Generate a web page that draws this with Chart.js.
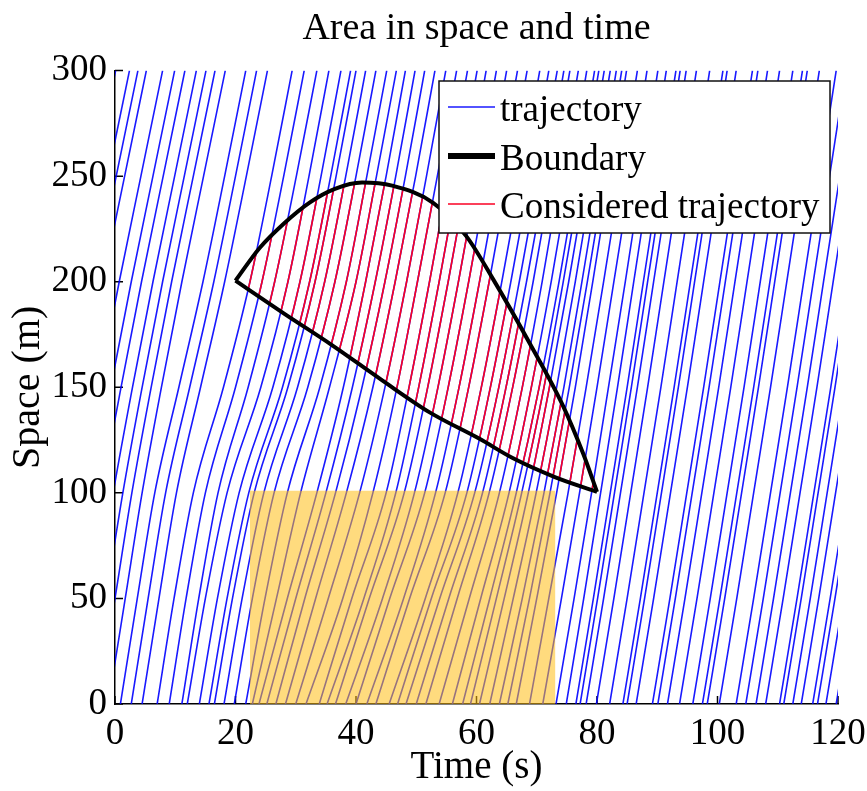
<!DOCTYPE html>
<html lang="en">
<head>
  <meta charset="UTF-8">
  <title>Area in space and time</title>
  <script src="https://cdn.jsdelivr.net/npm/chart.js"></script>
  <style>
    html, body { margin: 0; padding: 0; background: #fff; }
  </style>
</head>
<body>
  <canvas id="graph" width="867" height="791"></canvas>

  <script>
    // Space levels (m) where each trajectory time is read
    const spaceLevels = [0, 50, 100, 150, 200, 250, 300];

    // Time (s) at which each vehicle passes the space levels above
    const trajectoryTimes = [
      [-19.3, -16.5, -13.7, -10.5, -7.1, -3.5, 0.1],
      [-17.0, -14.2, -11.4, -8.2, -4.8, -1.2, 2.4],
      [-15.6, -12.8, -10.0, -6.8, -3.4, 0.2, 3.8],
      [-14.2, -11.4, -8.6, -5.4, -2.0, 1.6, 5.2],
      [-11.5, -8.7, -5.9, -2.7, 0.7, 4.3, 7.9],
      [-9.5, -6.7, -3.9, -0.7, 2.7, 6.3, 9.9],
      [-7.8, -5.0, -2.2, 1.0, 4.4, 8.0, 11.6],
      [-5.9, -3.1, -0.3, 2.9, 6.3, 9.9, 13.5],
      [-4.3, -1.5, 1.3, 4.5, 7.9, 11.5, 15.1],
      [-2.8, 0.0, 2.8, 6.0, 9.4, 13.0, 16.6],
      [-1.1, 1.7, 4.5, 7.7, 11.1, 14.7, 18.3],
      [0.9, 3.7, 6.6, 10.6, 14.6, 18.2, 21.7],
      [2.7, 5.5, 8.4, 12.4, 16.4, 20.0, 23.5],
      [4.5, 7.3, 10.2, 14.2, 18.2, 21.8, 25.3],
      [7.0, 9.8, 13.0, 18.0, 22.4, 26.0, 29.4],
      [9.0, 11.8, 15.0, 20.0, 24.4, 28.0, 31.4],
      [11.1, 13.9, 17.1, 22.1, 26.5, 30.1, 33.5],
      [12.0, 15.0, 18.6, 24.2, 28.7, 32.2, 35.5],
      [14.0, 17.0, 20.6, 26.2, 30.7, 34.2, 37.5],
      [15.6, 18.6, 22.2, 27.8, 32.3, 35.8, 39.1],
      [16.5, 19.5, 23.1, 28.7, 33.2, 36.7, 40.0],
      [18.1, 21.1, 24.7, 30.3, 34.8, 38.3, 41.6],
      [19.8, 22.8, 26.4, 32.0, 36.5, 40.0, 43.3],
      [21.7, 24.9, 28.6, 34.0, 38.4, 41.8, 45.1],
      [22.8, 26.8, 30.8, 35.6, 40.0, 43.4, 46.7],
      [23.9, 28.6, 33.5, 37.9, 41.6, 45.0, 48.2],
      [25.2, 30.0, 35.0, 39.4, 43.2, 46.6, 49.8],
      [26.7, 31.5, 36.6, 41.0, 44.8, 48.2, 51.4],
      [28.3, 33.3, 38.4, 42.8, 46.5, 49.9, 53.1],
      [30.0, 35.4, 40.6, 44.8, 48.4, 51.7, 54.9],
      [31.7, 37.8, 42.8, 46.8, 50.2, 53.5, 56.7],
      [33.9, 39.3, 45.0, 48.8, 52.2, 55.4, 58.5],
      [35.2, 41.3, 46.6, 50.4, 53.8, 57.0, 60.1],
      [36.6, 42.2, 48.0, 51.9, 55.3, 58.5, 61.6],
      [38.3, 44.4, 49.7, 53.6, 57.0, 60.2, 63.3],
      [40.0, 45.6, 51.4, 55.3, 58.7, 61.9, 65.0],
      [41.8, 47.9, 53.2, 57.1, 60.5, 63.7, 66.8],
      [43.3, 48.9, 54.8, 58.7, 62.1, 65.3, 68.4],
      [45.5, 51.5, 56.9, 60.8, 64.2, 67.4, 70.5],
      [46.9, 52.5, 58.4, 62.3, 65.7, 68.9, 72.0],
      [48.3, 53.9, 59.7, 63.7, 67.1, 70.3, 73.4],
      [50.0, 55.4, 61.0, 64.9, 68.3, 71.5, 74.5],
      [51.6, 56.8, 62.1, 66.0, 69.4, 72.5, 75.5],
      [53.8, 58.8, 63.8, 67.6, 70.9, 73.9, 76.9],
      [56.0, 60.7, 65.4, 69.1, 72.4, 75.4, 78.3],
      [57.7, 62.2, 66.6, 70.4, 73.7, 76.7, 79.6],
      [59.0, 63.3, 67.5, 71.2, 74.4, 77.4, 80.3],
      [60.5, 64.6, 68.6, 72.1, 75.3, 78.3, 81.2],
      [62.2, 66.1, 69.9, 73.3, 76.4, 79.3, 82.2],
      [63.8, 67.6, 71.2, 74.5, 77.5, 80.4, 83.2],
      [65.2, 68.8, 72.2, 75.4, 78.4, 81.3, 84.1],
      [66.6, 70.0, 73.3, 76.4, 79.3, 82.1, 84.9],
      [68.8, 72.0, 75.2, 78.2, 81.1, 83.9, 86.7],
      [71.0, 74.1, 77.1, 80.0, 82.8, 85.6, 88.3],
      [73.2, 76.2, 79.1, 81.9, 84.7, 87.4, 90.1],
      [74.9, 77.8, 80.6, 83.4, 86.1, 88.8, 91.5],
      [76.5, 79.4, 82.2, 85.0, 87.7, 90.4, 93.1],
      [77.2, 80.1, 82.9, 85.7, 88.4, 91.1, 93.8],
      [78.2, 81.1, 83.9, 86.7, 89.4, 92.1, 94.8],
      [79.9, 82.8, 85.6, 88.4, 91.1, 93.8, 96.5],
      [82.1, 85.0, 87.8, 90.6, 93.3, 96.0, 98.7],
      [84.3, 87.2, 90.0, 92.8, 95.5, 98.2, 100.9],
      [85.0, 87.9, 90.7, 93.5, 96.2, 98.9, 101.6],
      [86.5, 89.4, 92.2, 95.0, 97.7, 100.4, 103.1],
      [89.2, 92.1, 94.9, 97.7, 100.4, 103.1, 105.8],
      [90.1, 93.0, 95.8, 98.6, 101.3, 104.0, 106.7],
      [91.7, 94.6, 97.4, 100.2, 102.9, 105.6, 108.3],
      [93.7, 96.6, 99.4, 102.2, 104.9, 107.6, 110.3],
      [95.9, 98.8, 101.6, 104.4, 107.1, 109.8, 112.5],
      [97.5, 100.4, 103.2, 106.0, 108.7, 111.4, 114.1],
      [98.3, 101.2, 104.0, 106.8, 109.5, 112.2, 114.9],
      [100.3, 103.2, 106.0, 108.8, 111.5, 114.2, 116.9],
      [103.1, 106.0, 108.8, 111.6, 114.3, 117.0, 119.7],
      [104.7, 107.6, 110.4, 113.2, 115.9, 118.6, 121.3],
      [106.4, 109.3, 112.1, 114.9, 117.6, 120.3, 123.0],
      [108.0, 110.9, 113.7, 116.5, 119.2, 121.9, 124.6],
      [110.3, 113.2, 116.0, 118.8, 121.5, 124.2, 126.9],
      [111.0, 113.9, 116.7, 119.5, 122.2, 124.9, 127.6],
      [112.5, 115.4, 118.2, 121.0, 123.7, 126.4, 129.1],
      [113.9, 116.8, 119.6, 122.4, 125.1, 127.8, 130.5],
      [115.8, 118.7, 121.5, 124.3, 127.0, 129.7, 132.4],
      [116.6, 119.5, 122.3, 125.1, 127.8, 130.5, 133.2],
      [118.0, 120.9, 123.7, 126.5, 129.2, 131.9, 134.6],
      [119.7, 122.6, 125.4, 128.2, 130.9, 133.6, 136.3]
    ];

    // Boundary of the considered area
    const upperTime  = [20, 24, 28, 32.3, 36.5, 41, 46, 52.8, 58.3, 62.8, 68.8, 74.4, 77.7, 80];
    const upperSpace = [200.5, 216, 227.5, 237.5, 244, 247, 245.5, 237.4, 221.6, 201, 171, 141, 118.6, 100.5];
    const lowerTime  = [20, 28, 36, 44, 52.3, 60.5, 66, 73, 80];
    const lowerSpace = [200.5, 185, 170, 154, 138, 125.6, 116.5, 107.5, 100.5];

    // Shaded area
    const areaTime = [22.4, 73.1];
    const areaTop = 101;

    const labelTrajectory = "trajectory";
    const labelBoundary = "Boundary";
    const labelConsidered = "Considered trajectory";

    const BLUE = "rgba(0, 0, 255, 0.9)";
    const RED = "rgb(250, 0, 35)";
    const SERIF = "'Liberation Serif', 'Times New Roman', serif";

    function toPoints(times, spaces) {
      return times.map((t, i) => ({ x: t, y: spaces[i] }));
    }

    const datasets = [];

    // shaded rectangle (drawn on top)
    datasets.push({
      label: "area",
      data: toPoints(areaTime, [areaTop, areaTop]),
      borderWidth: 0,
      borderColor: "rgba(0,0,0,0)",
      backgroundColor: "rgba(255, 190, 20, 0.55)",
      fill: "origin",
      order: 0
    });

    datasets.push({
      label: labelBoundary,
      data: toPoints(upperTime, upperSpace),
      borderColor: "#000",
      borderWidth: 4,
      cubicInterpolationMode: "monotone",
      order: 1
    });
    datasets.push({
      label: labelBoundary,
      data: toPoints(lowerTime, lowerSpace),
      borderColor: "#000",
      borderWidth: 4,
      cubicInterpolationMode: "monotone",
      order: 1
    });

    trajectoryTimes.forEach(row => {
      datasets.push({
        label: labelConsidered,
        considered: true,
        data: toPoints(row, spaceLevels),
        borderColor: RED,
        borderWidth: 1.6,
        cubicInterpolationMode: "monotone",
        order: 2
      });
    });

    trajectoryTimes.forEach(row => {
      datasets.push({
        label: labelTrajectory,
        data: toPoints(row, spaceLevels),
        borderColor: BLUE,
        borderWidth: 1.6,
        cubicInterpolationMode: "monotone",
        order: 3
      });
    });

    // clip the red trajectories to the boundary
    const boundaryClip = {
      id: "boundaryClip",
      beforeDatasetDraw(chart, args) {
        if (!chart.data.datasets[args.index].considered) return;
        const { ctx, scales: { x, y } } = chart;
        ctx.save();
        ctx.beginPath();
        upperTime.forEach((t, i) => {
          const px = x.getPixelForValue(t), py = y.getPixelForValue(upperSpace[i]);
          if (i === 0) ctx.moveTo(px, py); else ctx.lineTo(px, py);
        });
        for (let i = lowerTime.length - 1; i >= 0; i--) {
          ctx.lineTo(x.getPixelForValue(lowerTime[i]), y.getPixelForValue(lowerSpace[i]));
        }
        ctx.closePath();
        ctx.clip();
      },
      afterDatasetDraw(chart, args) {
        if (chart.data.datasets[args.index].considered) chart.ctx.restore();
      }
    };

    // tick marks pointing into the plot
    const innerTicks = {
      id: "innerTicks",
      beforeDatasetsDraw(chart) {
        const { ctx, scales: { x, y } } = chart;
        ctx.save();
        ctx.strokeStyle = "#000";
        ctx.lineWidth = 1.5;
        ctx.beginPath();
        x.ticks.forEach(t => {
          const px = x.getPixelForValue(t.value);
          ctx.moveTo(px, y.bottom);
          ctx.lineTo(px, y.bottom - 8);
        });
        y.ticks.forEach(t => {
          const py = y.getPixelForValue(t.value);
          ctx.moveTo(x.left, py);
          ctx.lineTo(x.left + 8, py);
        });
        ctx.stroke();
        ctx.restore();
      }
    };

    // boxed legend in the upper right
    const boxLegend = {
      id: "boxLegend",
      afterDatasetsDraw(chart) {
        const ctx = chart.ctx;
        const left = 439, top = 81, right = 830, bottom = 233;
        ctx.save();
        ctx.fillStyle = "#fff";
        ctx.fillRect(left, top, right - left, bottom - top);
        ctx.strokeStyle = "#111";
        ctx.lineWidth = 1.5;
        ctx.strokeRect(left, top, right - left, bottom - top);

        const items = [
          { text: labelTrajectory, color: BLUE, width: 1.5 },
          { text: labelBoundary, color: "#000", width: 6 },
          { text: labelConsidered, color: RED, width: 1.5 }
        ];
        const rowY = [107, 156, 204];
        ctx.font = "37px " + SERIF;
        ctx.textBaseline = "alphabetic";
        items.forEach((it, i) => {
          ctx.strokeStyle = it.color;
          ctx.lineWidth = it.width;
          ctx.beginPath();
          ctx.moveTo(448, rowY[i]);
          ctx.lineTo(495, rowY[i]);
          ctx.stroke();
          ctx.fillStyle = "#000";
          ctx.fillText(it.text, 500, rowY[i] + 14);
        });
        ctx.restore();
      }
    };

    const ctx = document.getElementById("graph").getContext("2d");
    new Chart(ctx, {
      type: "line",
      data: { datasets: datasets },
      options: {
        responsive: false,
        animation: false,
        events: [],
        layout: { padding: { left: 0, right: 29, top: 0, bottom: 0 } },
        elements: { point: { radius: 0 } },
        plugins: {
          legend: { display: false },
          tooltip: { enabled: false },
          title: {
            display: true,
            fullSize: false,
            text: "Area in space and time",
            color: "#000",
            font: { family: SERIF, size: 38, weight: "normal" },
            padding: { top: 6, bottom: 19 }
          }
        },
        scales: {
          x: {
            type: "linear",
            min: 0,
            max: 120,
            ticks: { stepSize: 20, color: "#000", padding: 8, maxRotation: 0,
                     font: { family: SERIF, size: 37 } },
            grid: { display: true, drawOnChartArea: false, drawTicks: false },
            border: { display: true, color: "#000", width: 1.5 },
            title: { display: true, text: "Time (s)", color: "#000",
                     font: { family: SERIF, size: 39 }, padding: { top: 0, bottom: 0 } },
            afterFit(scale) {
              scale.height = 87;
              scale.paddingLeft = 0;
              scale.paddingRight = 0;
            }
          },
          y: {
            type: "linear",
            min: 0,
            max: 300,
            ticks: { stepSize: 50, color: "#000", padding: 8,
                     font: { family: SERIF, size: 37 } },
            grid: { display: true, drawOnChartArea: false, drawTicks: false },
            border: { display: true, color: "#000", width: 1.5 },
            title: { display: true, text: "Space (m)", color: "#000",
                     font: { family: SERIF, size: 40 }, padding: { top: 4, bottom: 0 } },
            afterFit(scale) { scale.width = 115; }
          }
        }
      },
      plugins: [boundaryClip, innerTicks, boxLegend]
    });
  </script>
</body>
</html>
